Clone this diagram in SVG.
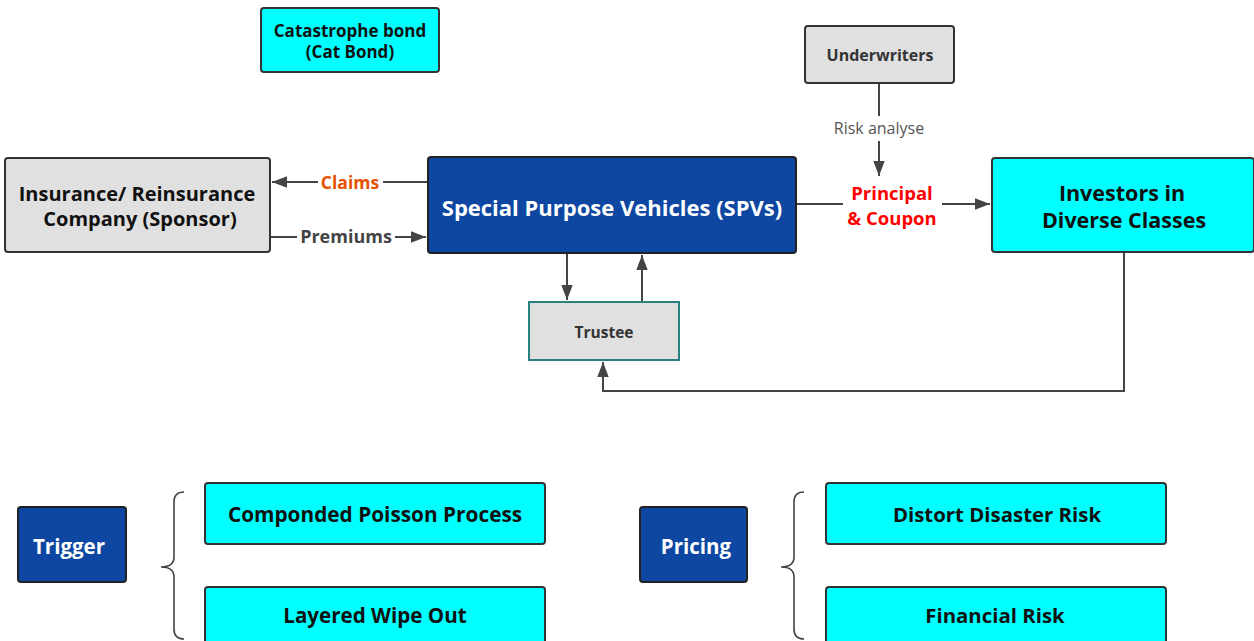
<svg xmlns="http://www.w3.org/2000/svg" width="1254" height="641" viewBox="0 0 1254 641">
<defs>
<marker id="ahb" viewBox="0 0 10 10" refX="10" refY="5" markerWidth="15" markerHeight="15" markerUnits="userSpaceOnUse" orient="auto"><path d="M0,1.2 L10,5 L0,8.8 z" fill="#444"/></marker>
<style>
text{font-family:"Open Sans","Noto Sans",sans-serif;font-weight:bold;text-anchor:middle}
.cyan{fill:#00ffff;stroke:#333;stroke-width:2}
.gray{fill:#e0e0e0;stroke:#333;stroke-width:2}
.blue{fill:#0d47a1;stroke:#222;stroke-width:2}
.dk{fill:#111}
.wt{fill:#fff}
.ln{fill:none;stroke:#444;stroke-width:2}
.br{fill:none;stroke:#444;stroke-width:1.6}
</style>
</defs>
<rect width="1254" height="641" fill="#fff"/>

<g id="connectors">
<line class="ln" x1="428" y1="182" x2="383" y2="182"/>
<line class="ln" x1="318" y1="182" x2="272" y2="182" marker-end="url(#ahb)"/>
<line class="ln" x1="270" y1="237" x2="297" y2="237"/>
<line class="ln" x1="395" y1="237" x2="426" y2="237" marker-end="url(#ahb)"/>
<line class="ln" x1="879" y1="83" x2="879" y2="116"/>
<line class="ln" x1="879" y1="141" x2="879" y2="176" marker-end="url(#ahb)"/>
<line class="ln" x1="796" y1="204" x2="843" y2="204"/>
<line class="ln" x1="942" y1="204" x2="990" y2="204" marker-end="url(#ahb)"/>
<line class="ln" x1="567" y1="253" x2="567" y2="300" marker-end="url(#ahb)"/>
<line class="ln" x1="642" y1="302" x2="642" y2="255" marker-end="url(#ahb)"/>
<polyline class="ln" points="1124,252 1124,391 603,391 603,362" marker-end="url(#ahb)"/>
<text x="350" y="189" style="font-size:17.5px;fill:#e65100">Claims</text>
<text x="346" y="243" style="font-size:18px;fill:#444">Premiums</text>
<text x="879" y="134" style="font-size:16px;font-weight:normal;fill:#555">Risk analyse</text>
<text x="892" y="200" style="font-size:18.5px;fill:#ff0000">Principal</text>
<text x="892" y="225" style="font-size:18.5px;fill:#ff0000">&amp; Coupon</text>
</g>

<g id="catbond">
<rect class="cyan" x="261" y="8" width="178" height="64" rx="3"/>
<text class="dk" x="350" y="37" style="font-size:17px">Catastrophe bond</text>
<text class="dk" x="350" y="58" style="font-size:17px">(Cat Bond)</text>
</g>

<g id="insurance">
<rect class="gray" x="5" y="158" width="265" height="94" rx="3"/>
<text class="dk" x="137" y="201" style="font-size:20px">Insurance/ Reinsurance</text>
<text class="dk" x="140" y="226" style="font-size:20px">Company (Sponsor)</text>
</g>

<g id="spv">
<rect class="blue" x="428" y="157" width="368" height="96" rx="3"/>
<text class="wt" x="612" y="216" style="font-size:22px">Special Purpose Vehicles (SPVs)</text>
</g>

<g id="underwriters">
<rect class="gray" x="805" y="26" width="149" height="57" rx="3"/>
<text x="880" y="61" style="font-size:16px;fill:#333">Underwriters</text>
</g>

<g id="investors">
<rect class="cyan" x="992" y="158" width="262" height="94" rx="3"/>
<text class="dk" x="1122" y="201" style="font-size:21.5px">Investors in</text>
<text class="dk" x="1124" y="228" style="font-size:21.5px">Diverse Classes</text>
</g>

<g id="trustee">
<rect x="529" y="302" width="150" height="58" fill="#e0e0e0" stroke="#2a7f7f" stroke-width="2"/>
<text x="604" y="338" style="font-size:15.5px;fill:#333">Trustee</text>
</g>

<g id="trigger">
<rect class="blue" x="18" y="507" width="108" height="75" rx="3"/>
<text class="wt" x="69" y="554" style="font-size:20.5px">Trigger</text>
</g>
<g id="brace1"><path class="br" d="M184,492 Q174,492 174,502 L174,557 Q174,567 161,567 Q174,567 174,577 L174,629 Q174,639 184,639"/></g>
<g id="poisson">
<rect class="cyan" x="205" y="483" width="340" height="61" rx="3"/>
<text class="dk" x="375" y="522" style="font-size:20.8px">Componded Poisson Process</text>
</g>
<g id="wipeout">
<rect class="cyan" x="205" y="587" width="340" height="60" rx="3"/>
<text class="dk" x="375" y="623" style="font-size:20.6px">Layered Wipe Out</text>
</g>

<g id="pricing">
<rect class="blue" x="640" y="507" width="107" height="75" rx="3"/>
<text class="wt" x="696" y="554" style="font-size:20.5px">Pricing</text>
</g>
<g id="brace2"><path class="br" d="M804,492 Q794,492 794,502 L794,557 Q794,567 781,567 Q794,567 794,577 L794,629 Q794,639 804,639"/></g>
<g id="distort">
<rect class="cyan" x="826" y="483" width="340" height="61" rx="3"/>
<text class="dk" x="997" y="522" style="font-size:20.4px">Distort Disaster Risk</text>
</g>
<g id="financial">
<rect class="cyan" x="826" y="587" width="340" height="60" rx="3"/>
<text class="dk" x="995" y="623" style="font-size:20.4px">Financial Risk</text>
</g>
</svg>
